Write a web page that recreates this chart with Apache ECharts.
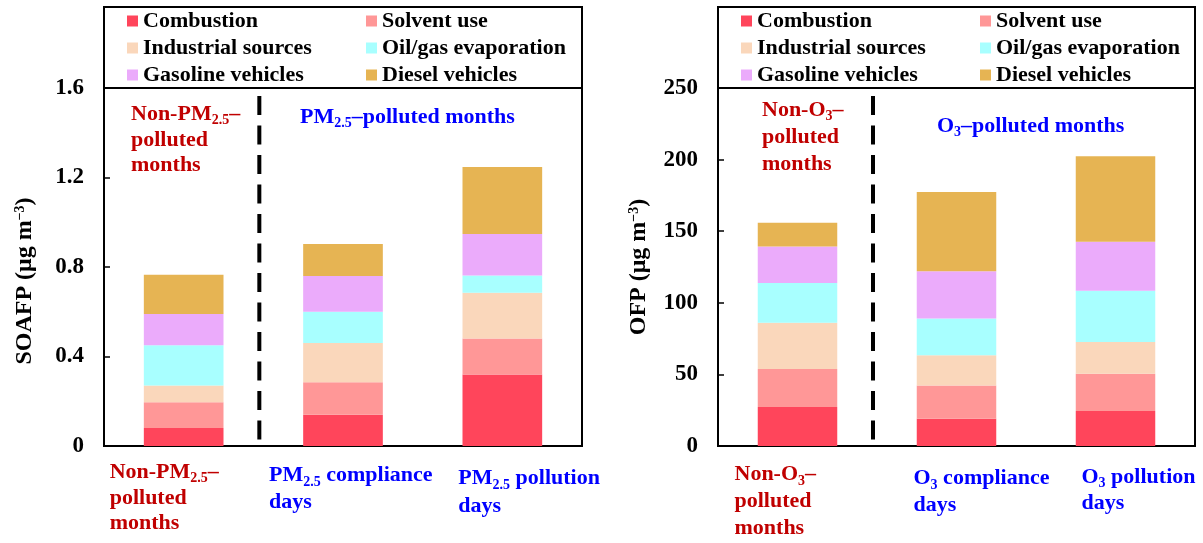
<!DOCTYPE html>
<html>
<head>
<meta charset="utf-8">
<title>SOAFP and OFP by source</title>
<script src="https://cdn.jsdelivr.net/npm/echarts@6/dist/echarts.min.js"></script>
<style>
  html, body { margin: 0; padding: 0; background: #fff; }
  #chart { width: 1203px; height: 543px; }
</style>
</head>
<body>
<div id="chart"></div>
<script>
// ---- data ----
const sources = ['Combustion', 'Solvent use', 'Industrial sources', 'Oil/gas evaporation', 'Gasoline vehicles', 'Diesel vehicles'];
const soaCategories = ['Non-PM2.5–polluted months', 'PM2.5 compliance days', 'PM2.5 pollution days'];
const ofpCategories = ['Non-O3–polluted months', 'O3 compliance days', 'O3 pollution days'];

// SOAFP (µg m-3), one value per category
const soafpCombustion = [0.08, 0.14, 0.32];
const soafpSolvent    = [0.115, 0.145, 0.16];
const soafpIndustrial = [0.075, 0.175, 0.205];
const soafpOilGas     = [0.18, 0.14, 0.077];
const soafpGasoline   = [0.14, 0.16, 0.185];
const soafpDiesel     = [0.175, 0.143, 0.30];

// OFP (µg m-3), one value per category
const ofpCombustion = [27.2, 19.0, 24.4];
const ofpSolvent    = [26.5, 23.2, 26.0];
const ofpIndustrial = [32.3, 21.1, 22.3];
const ofpOilGas     = [27.9, 25.8, 35.8];
const ofpGasoline   = [25.5, 33.0, 34.2];
const ofpDiesel     = [16.5, 55.3, 59.6];

const soaTicks = { min: 0, max: 1.6, interval: 0.4 };
const ofpTicks = { min: 0, max: 250, interval: 50 };

// ---- styling ----
const FONT = "'Liberation Serif', 'Times New Roman', serif";
const RED = '#C00000';
const BLUE = '#0000FF';
const sourceColors = ['#FF455B', '#FF9797', '#FAD7BB', '#A8FFFF', '#EBABFB', '#E6B453'];

const gridBoxes = [
  { left: 104, top: 88, width: 478, height: 358 },
  { left: 718, top: 88, width: 477, height: 358 }
];
const frameTop = 7;

const soaSeries = [soafpCombustion, soafpSolvent, soafpIndustrial, soafpOilGas, soafpGasoline, soafpDiesel];
const ofpSeries = [ofpCombustion, ofpSolvent, ofpIndustrial, ofpOilGas, ofpGasoline, ofpDiesel];

function yAxis(gridIndex, ticks, title, shiftDown) {
  return {
    gridIndex, type: 'value', min: ticks.min, max: ticks.max, interval: ticks.interval,
    name: title, nameLocation: 'middle', nameGap: 67, nameRotate: 90,
    nameTextStyle: {
      fontSize: 24, fontWeight: 'bold', fontFamily: FONT, color: '#000',
      padding: [0, shiftDown * 2, 0, 0],
      rich: { sup: { fontSize: 14, fontWeight: 'bold', fontFamily: FONT, color: '#000', verticalAlign: 'top', lineHeight: 14 } }
    },
    axisLine: { show: true, lineStyle: { color: '#000', width: 2 } },
    axisTick: { show: true, inside: true, length: 6, lineStyle: { color: '#000', width: 1.5 } },
    axisLabel: { fontSize: 23, fontWeight: 'bold', fontFamily: FONT, color: '#000', margin: 20 },
    splitLine: { show: false }
  };
}

function xAxis(gridIndex, cats) {
  return {
    gridIndex, type: 'category', data: cats,
    axisLine: { show: true, lineStyle: { color: '#000', width: 2 } },
    axisTick: { show: false },
    axisLabel: { show: false },
    splitLine: { show: false }
  };
}

function legend(names, left) {
  return {
    data: names, orient: 'vertical', left, top: 7.5, padding: 0,
    itemWidth: 11, itemHeight: 11, itemGap: 0, itemTextGap: 5, icon: 'rect',
    selectedMode: false,
    textStyle: { fontSize: 22, fontWeight: 'bold', fontFamily: FONT, color: '#000', lineHeight: 27 }
  };
}

const series = [];
[soaSeries, ofpSeries].forEach((panel, p) => {
  panel.forEach((values, i) => {
    series.push({
      type: 'bar', name: sources[i], stack: 'panel' + p,
      xAxisIndex: p, yAxisIndex: p, data: values, barWidth: '50%',
      itemStyle: { color: sourceColors[i] },
      emphasis: { disabled: true }, animation: false
    });
  });
});

const col1 = [sources[0], sources[2], sources[4]];
const col2 = [sources[1], sources[3], sources[5]];

const chart = echarts.init(document.getElementById('chart'));
chart.setOption({
  animation: false,
  color: sourceColors,
  grid: gridBoxes.map(g => Object.assign({ show: true, borderColor: '#000', borderWidth: 2, backgroundColor: 'transparent' }, g)),
  xAxis: [xAxis(0, soaCategories), xAxis(1, ofpCategories)],
  yAxis: [yAxis(0, soaTicks, 'SOAFP (μg m{sup|−3})', 14), yAxis(1, ofpTicks, 'OFP (μg m{sup|−3})', 0)],
  legend: [legend(col1, 127), legend(col2, 366), legend(col1, 741), legend(col2, 980)],
  series
});

// ---- annotations, separators and category labels ----
function richStyles(color) {
  return {
    r: { fill: color, fontSize: 22, fontWeight: 'bold', fontFamily: FONT, lineHeight: 26 },
    s: { fill: color, fontSize: 14, fontWeight: 'bold', fontFamily: FONT, lineHeight: 13, verticalAlign: 'bottom' }
  };
}
function label(x, y, text, color, lineHeight) {
  const rich = richStyles(color);
  if (lineHeight) rich.r.lineHeight = lineHeight;
  return {
    type: 'text', x, y, silent: true,
    style: { text, rich, textAlign: 'left', textVerticalAlign: 'top' }
  };
}

const catLabels = [
  [
    { dx: -74, y: 460, lh: 25.5, color: RED,  text: '{r|Non-PM}{s|2.5}{r|–}\n{r|polluted}\n{r|months}' },
    { dx: -74, y: 462, lh: 27,   color: BLUE, text: '{r|PM}{s|2.5}{r| compliance}\n{r|days}' },
    { dx: -44, y: 464, lh: 28,   color: BLUE, text: '{r|PM}{s|2.5}{r| pollution}\n{r|days}' }
  ],
  [
    { dx: -63, y: 461, lh: 27, color: RED,  text: '{r|Non-O}{s|3}{r|–}\n{r|polluted}\n{r|months}' },
    { dx: -43, y: 465, lh: 27, color: BLUE, text: '{r|O}{s|3}{r| compliance}\n{r|days}' },
    { dx: -34, y: 464, lh: 26, color: BLUE, text: '{r|O}{s|3}{r| pollution}\n{r|days}' }
  ]
];
const notes = [
  [
    { x: 131, y: 102, lh: 25.5, color: RED,  text: '{r|Non-PM}{s|2.5}{r|–}\n{r|polluted}\n{r|months}' },
    { x: 300, y: 104, lh: 26,   color: BLUE, text: '{r|PM}{s|2.5}{r|–polluted months}' }
  ],
  [
    { x: 762, y: 96.5, lh: 27, color: RED,  text: '{r|Non-O}{s|3}{r|–}\n{r|polluted}\n{r|months}' },
    { x: 937, y: 113,  lh: 26, color: BLUE, text: '{r|O}{s|3}{r|–polluted months}' }
  ]
];

const graphics = [];
gridBoxes.forEach((g, p) => {
  // frame around the legend above the plot
  graphics.push({
    type: 'rect', silent: true, z: 10,
    shape: { x: g.left, y: frameTop, width: g.width, height: g.top - frameTop },
    style: { fill: 'none', stroke: '#000', lineWidth: 2 }
  });
  const x0 = chart.convertToPixel({ gridIndex: p }, [0, 0])[0];
  const x1 = chart.convertToPixel({ gridIndex: p }, [1, 0])[0];
  const x2 = chart.convertToPixel({ gridIndex: p }, [2, 0])[0];
  const bottom = chart.convertToPixel({ gridIndex: p }, [0, 0])[1];
  // dashed separator between the first and second groups
  graphics.push({
    type: 'line', silent: true, z: 10,
    shape: { x1: (x0 + x1) / 2 - 4, y1: 96, x2: (x0 + x1) / 2 - 4, y2: bottom },
    style: { stroke: '#000', lineWidth: 4, lineDash: [19, 10.5] }
  });
  [x0, x1, x2].forEach((cx, i) => {
    const c = catLabels[p][i];
    graphics.push(label(cx + c.dx, c.y, c.text, c.color, c.lh));
  });
  notes[p].forEach(n => graphics.push(label(n.x, n.y, n.text, n.color, n.lh)));
});
chart.setOption({ graphic: graphics });
</script>
</body>
</html>
